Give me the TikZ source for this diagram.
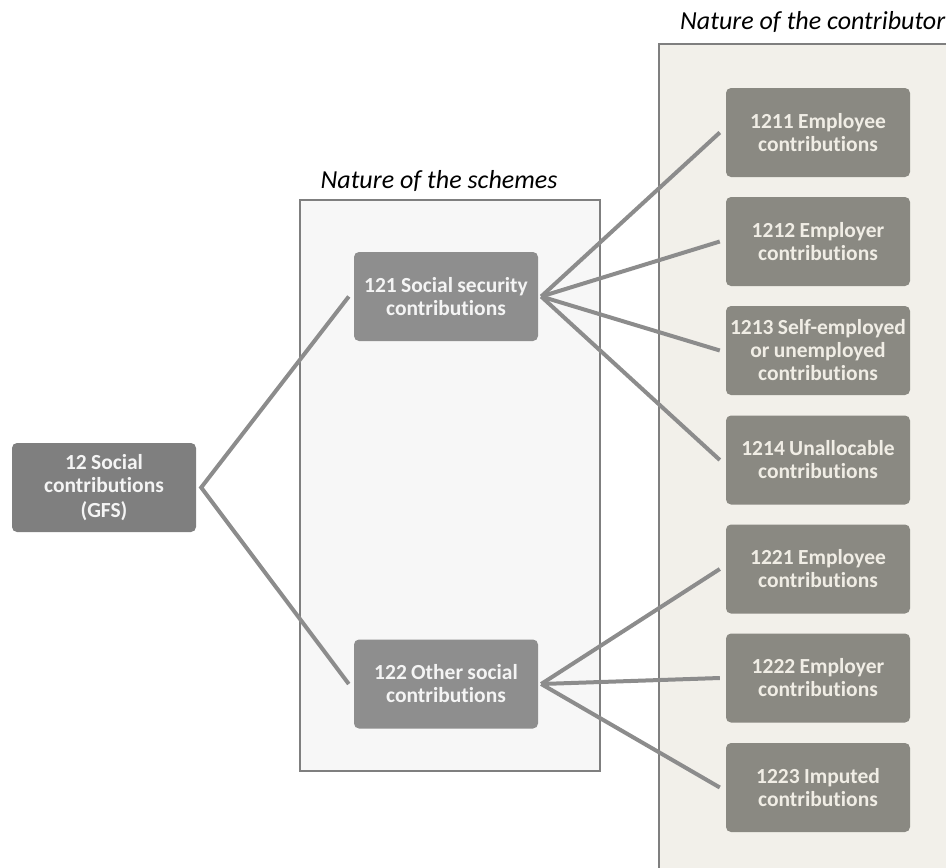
\documentclass[tikz,border=0pt]{standalone}
\usepackage{fontspec}
\setmainfont{Carlito}[Ligatures=NoCommon]
\newcommand\myboxfont{\bfseries\fontsize{21.5}{23}\selectfont\spaceskip=4.3pt plus 1pt minus 1pt\relax}
\definecolor{panelM}{HTML}{F7F7F7}
\definecolor{panelR}{HTML}{F2F0EA}
\definecolor{panelEdge}{HTML}{7F7F7F}
\definecolor{boxA}{HTML}{7F7F7F}
\definecolor{boxB}{HTML}{8E8E8E}
\definecolor{boxC}{HTML}{8A8982}
\definecolor{txtA}{HTML}{F4F4F4}
\definecolor{txtC}{HTML}{F0EDE5}
\definecolor{link}{HTML}{8C8C8C}
\begin{document}
\begin{tikzpicture}[x=1pt,y=-1pt,
  box/.style={rounded corners=5pt, minimum width=184pt, minimum height=89pt, inner sep=0pt,
    text width=184pt, align=flush center, font=\myboxfont},
  boxleft/.style={box, fill=boxA, text=txtA},
  boxmid/.style={box, fill=boxB, text=txtA},
  boxright/.style={box, fill=boxC, text=txtC},
  paneltitle/.style={inner sep=0pt, font=\itshape\fontsize{26}{28}\selectfont, text=black},
  linkline/.style={draw=link, line width=4pt}]
\useasboundingbox (0,0) rectangle (946,868);
\begin{scope}
\clip (0,0) rectangle (946,868);
% panels
\fill[panelR] (659,44) rectangle (1000,900);
\draw[panelEdge, line width=1.5pt] (659,900) -- (659,44) -- (1000,44);
\draw[panelEdge, line width=1.2pt, fill=panelM] (300,200) rectangle (600,771);
\node[paneltitle, anchor=base] (t1) at (439,188) {Nature of the schemes};
\node[paneltitle, anchor=base west] (t2) at (680,29) {Nature of the contributor};
% nodes
\node[boxleft] (n12) at (104,487.5) {12 Social\\contributions\\[2pt](GFS)};
\node[boxmid] (n121) at (446,296.5) {121 Social security\\contributions};
\node[boxmid] (n122) at (446,684) {122 Other social\\contributions};
\node[boxright] (n1211) at (818,132.5) {1211 Employee\\contributions};
\node[boxright] (n1212) at (818,241.5) {1212 Employer\\contributions};
\node[boxright] (n1213) at (818,350.5) {1213 Self-employed\\or unemployed\\contributions};
\node[boxright] (n1214) at (818,460) {1214 Unallocable\\contributions};
\node[boxright] (n1221) at (818,569) {1221 Employee\\contributions};
\node[boxright] (n1222) at (818,678) {1222 Employer\\contributions};
\node[boxright] (n1223) at (818,787.5) {1223 Imputed\\contributions};
% links
\draw[linkline] ([xshift=-5pt]n121.west) -- ([xshift=5pt]n12.east) -- ([xshift=-5pt]n122.west);
\foreach \t in {n1211,n1212,n1213,n1214}
  \draw[linkline] ([xshift=3pt]n121.east) -- ([xshift=-6pt]\t.west);
\foreach \t in {n1221,n1222,n1223}
  \draw[linkline] ([xshift=3pt]n122.east) -- ([xshift=-6pt]\t.west);
\end{scope}
\end{tikzpicture}
\end{document}
